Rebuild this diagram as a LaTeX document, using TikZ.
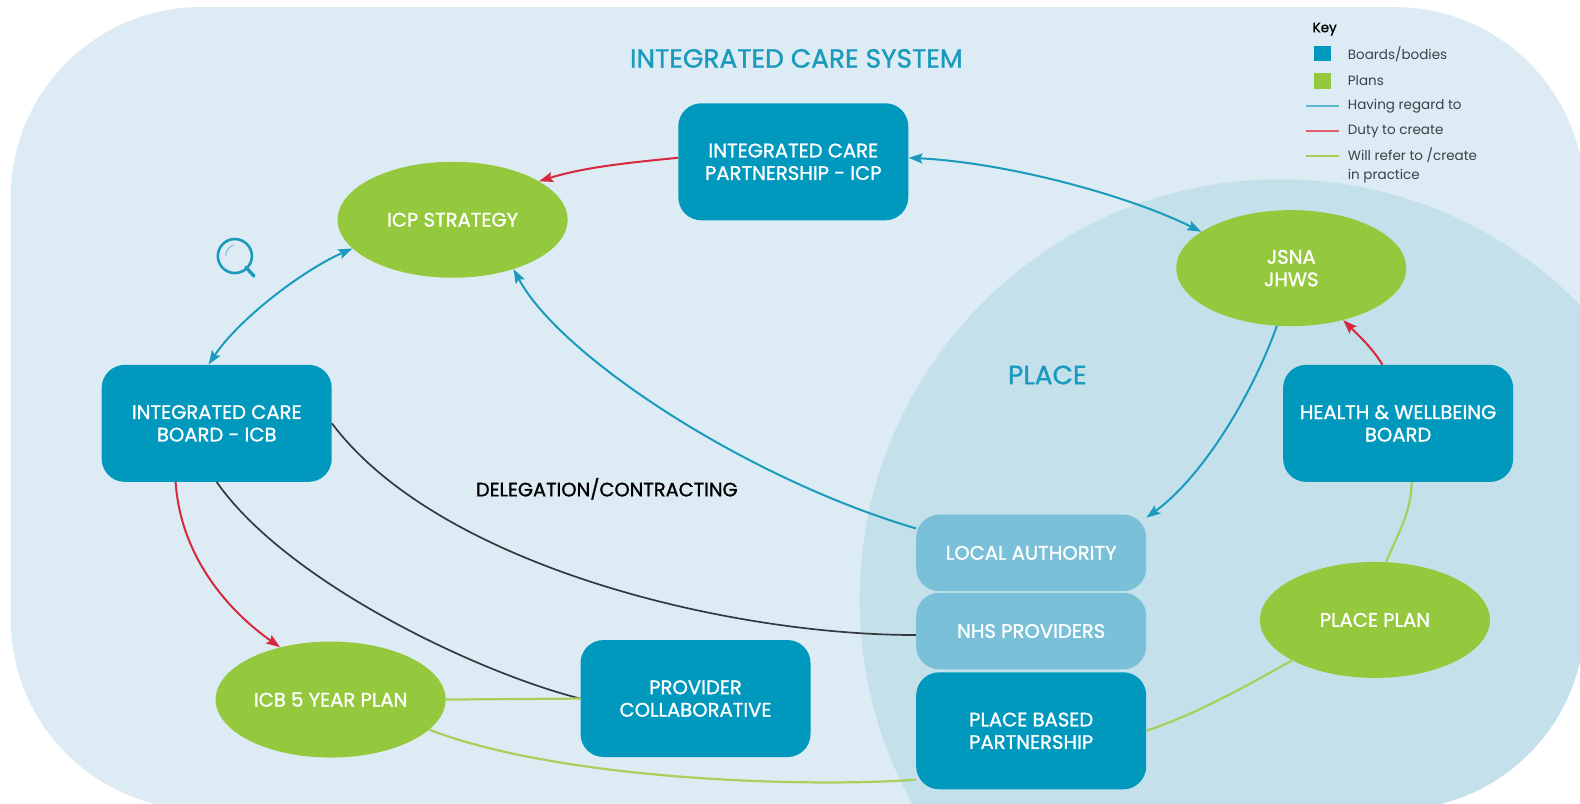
\documentclass[tikz,border=0pt]{standalone}
\usepackage{fontspec}
\setmainfont{Poppins}
\newfontfamily\headfont[FakeBold=1.2]{Poppins}
\usetikzlibrary{arrows.meta,shapes.geometric}
\definecolor{bgc}{HTML}{DDECF4}
\definecolor{placec}{HTML}{C3E0EB}
\definecolor{boxc}{HTML}{0098BD}
\definecolor{lightc}{HTML}{7AC0D8}
\definecolor{planc}{HTML}{95C93D}
\definecolor{redc}{HTML}{D8283F}
\definecolor{bluec}{HTML}{1A9BBE}
\definecolor{greenc}{HTML}{A9CF5A}
\definecolor{darkc}{HTML}{33393F}
\definecolor{keyc}{HTML}{3A4248}
\tikzset{
 board/.style={rounded corners=23pt,fill=boxc,text=white,minimum width=230pt,minimum height=117pt,align=center,font=\headfont\fontsize{19.6}{22.5}\selectfont,inner sep=0pt},
 lightboard/.style={board,fill=lightc,minimum height=76.5pt},
 plan/.style={ellipse,fill=planc,text=white,minimum width=230pt,minimum height=116pt,align=center,font=\headfont\fontsize{19.6}{22.5}\selectfont,inner sep=0pt},
 heading/.style={text=bluec,font=\headfont\fontsize{26.4}{30}\selectfont,inner sep=0pt},
 tipped/.style={-{Stealth[length=14pt,width=10pt,inset=2.5pt]}},
 bothtipped/.style={{Stealth[length=14pt,width=10pt,inset=2.5pt]}-{Stealth[length=14pt,width=10pt,inset=2.5pt]}},
 regard/.style={draw=bluec,line width=2pt},
 duty/.style={draw=redc,line width=2pt},
 refer/.style={draw=greenc,line width=2.2pt},
 deleg/.style={draw=darkc,line width=1.7pt},
 keytext/.style={anchor=west,text=keyc,font=\fontsize{13.5}{18.5}\selectfont,inner sep=0pt,align=left},
}
\begin{document}
\begin{tikzpicture}[x=1.008pt,y=-1.008pt]
\useasboundingbox (0,0) rectangle (1567.46,796.63);
\fill[white] (0,0) rectangle (1567.46,796.63);
\begin{scope}
\clip (0,0) rectangle (1567.46,796.63);
\clip[rounded corners=190pt] (10.7,7) rectangle (1572,803);
\fill[bgc] (0,0) rectangle (1580,810);
\fill[placec] (1270,595) circle (420.5pt);
\end{scope}
\node[heading] (title) at (790,58) {INTEGRATED CARE SYSTEM};
\node[heading] (placelabel) at (1039,372) {PLACE};
\node[board] (icp) at (787,160.5) {INTEGRATED CARE\\PARTNERSHIP - ICP};
\node[board] (icb) at (215,420) {INTEGRATED CARE\\BOARD - ICB};
\node[board] (hwb) at (1387,420) {HEALTH \& WELLBEING\\BOARD};
\node[board] (pc) at (690,693) {PROVIDER\\COLLABORATIVE};
\node[board] (pbp) at (1023,725) {PLACE BASED\\PARTNERSHIP};
\node[lightboard] (la) at (1023,548.5) {LOCAL AUTHORITY};
\node[lightboard] (nhs) at (1023,626) {NHS PROVIDERS};
\node[plan] (strategy) at (449,218) {ICP STRATEGY};
\node[plan] (jsna) at (1281,266) {JSNA\\JHWS};
\node[plan] (five) at (328,694) {ICB 5 YEAR PLAN};
\node[plan] (placeplan) at (1364,615) {PLACE PLAN};
\node[inner sep=0pt,font=\headfont\fontsize{19.4}{22}\selectfont,text=black] (deleglabel) at (602,485) {DELEGATION/CONTRACTING};
% connectors
\draw[duty,tipped] (icp.178) .. controls +(-50,5) and +(45,-14) .. (strategy.24);
\draw[regard,bothtipped] (icp.2) .. controls +(100,5) and +(-70,-35) .. (jsna.158);
\draw[regard,bothtipped] (strategy.196) .. controls +(-50,22) and +(30,-45) .. (icb.98);
\draw[regard,tipped] (la.168) .. controls +(-170,-50) and +(45,85) .. (strategy.-39);
\draw[regard,tipped] (jsna.256) .. controls +(-25,70) and +(55,-40) .. (la.17);
\draw[duty,tipped] (hwb.105) .. controls +(-10,-17) and +(12,12) .. (jsna.-45);
\draw[duty,tipped] (icb.235) .. controls +(5,75) and +(-50,-35) .. (five.134);
\draw[deleg] (icb.east) .. controls +(105,140) and +(-190,0) .. (nhs.182);
\draw[deleg] (icb.south) .. controls +(70,100) and +(-100,-25) .. (pc.west);
\draw[refer] (five.east) -- (pc.west);
\draw[refer] (five.-17) .. controls +(130,50) and +(-110,8) .. (pbp.203);
\draw[refer] (pbp.east) .. controls +(50,-17) and +(-50,28) .. (placeplan.206);
\draw[refer] (hwb.-77) .. controls +(0,30) and +(10,-25) .. (placeplan.79);
% magnifier
\draw[bluec,line width=2.6pt] (233,254) circle (17pt);
\draw[bluec,line width=3.4pt,line cap=round] (244,265) -- (252,274);
\draw[bluec!70!white,line width=.8pt] (224,254) .. controls (224,248) and (227,245) .. (232,243);
% key
\node[keytext,text=black,font=\headfont\fontsize{13.5}{18}\selectfont] (keyhead) at (1302,29) {Key};
\fill[boxc] (1304,46) rectangle (1320,61);
\fill[planc] (1304,72) rectangle (1320,88);
\coordinate (k1a) at (1296,105); \coordinate (k1b) at (1328,105);
\coordinate (k2a) at (1296,130); \coordinate (k2b) at (1328,130);
\coordinate (k3a) at (1296,155); \coordinate (k3b) at (1328,155);
\draw[draw=bluec!70!white,line width=1.8pt] (k1a) -- (k1b);
\draw[draw=redc!75!white,line width=1.8pt] (k2a) -- (k2b);
\draw[draw=greenc,line width=1.8pt] (k3a) -- (k3b);
\node[keytext] (kt1) at (1337,54) {Boards/bodies};
\node[keytext] (kt2) at (1337,80) {Plans};
\node[keytext] (kt3) at (1337,105) {Having regard to};
\node[keytext] (kt4) at (1337,130) {Duty to create};
\node[keytext] (kt5) at (1337,164) {Will refer to /create\\in practice};
\end{tikzpicture}
\end{document}
